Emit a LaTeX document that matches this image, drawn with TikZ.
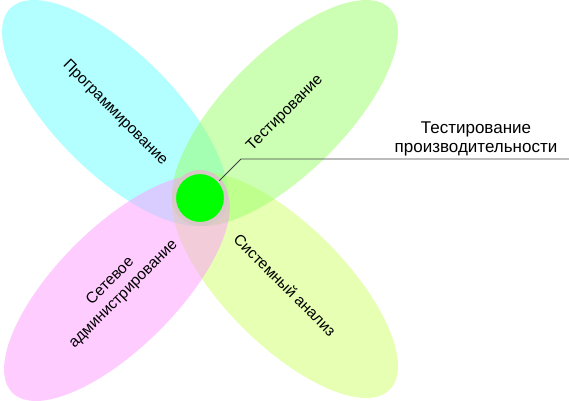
\documentclass[tikz,border=0pt]{standalone}
\usepackage{fontspec}
\setmainfont{Liberation Sans}
\usetikzlibrary{shapes.geometric}
\definecolor{petalcyan}{RGB}{103,255,255}
\definecolor{petalgreen}{RGB}{153,255,103}
\definecolor{petalpink}{RGB}{255,153,255}
\definecolor{petallime}{RGB}{205,255,103}
\definecolor{hubgreen}{RGB}{0,255,0}
\definecolor{hubring}{RGB}{216,200,200}
\begin{document}
\begin{tikzpicture}[
  x=1pt,y=-1pt,
  petal/.style={ellipse,minimum width=296pt,minimum height=120pt,inner sep=0pt,
    fill opacity=0.5,text opacity=1,font=\fontsize{15.5}{18.5}\selectfont,align=center},
  hub/.style={circle,minimum size=52pt,inner sep=0pt,outer sep=0pt,
    fill=hubgreen,draw=hubring,line width=4pt},
  leader/.style={draw=black!75,line width=0.8pt},
  note/.style={font=\fontsize{17}{19.5}\selectfont,align=center}]
  \useasboundingbox (0,0) rectangle (569,400);

  % four petals, drawn in this order for the overlaps
  \node[petal,fill=petalcyan,rotate=-45] (prog) at (115,113) {Программирование};
  \node[petal,fill=petallime,rotate=-45] (sys) at (285,285) {Системный анализ};
  \node[petal,fill=petalgreen,rotate=45] (test) at (285,113) {Тестирование};
  \node[petal,fill=petalpink,rotate=45] (net) at (117,288)
    {Сетевое\\администрирование};

  % centre and its callout
  \node[hub] (perf) at (200,198) {};
  \coordinate (bend) at (241,159);
  \coordinate (tail) at (569,159);
  \draw[leader] (perf.42) -- (bend) -- (tail);
  \node[note,anchor=south] (perfnote) at (476,160)
    {Тестирование\\производительности};
\end{tikzpicture}
\end{document}
